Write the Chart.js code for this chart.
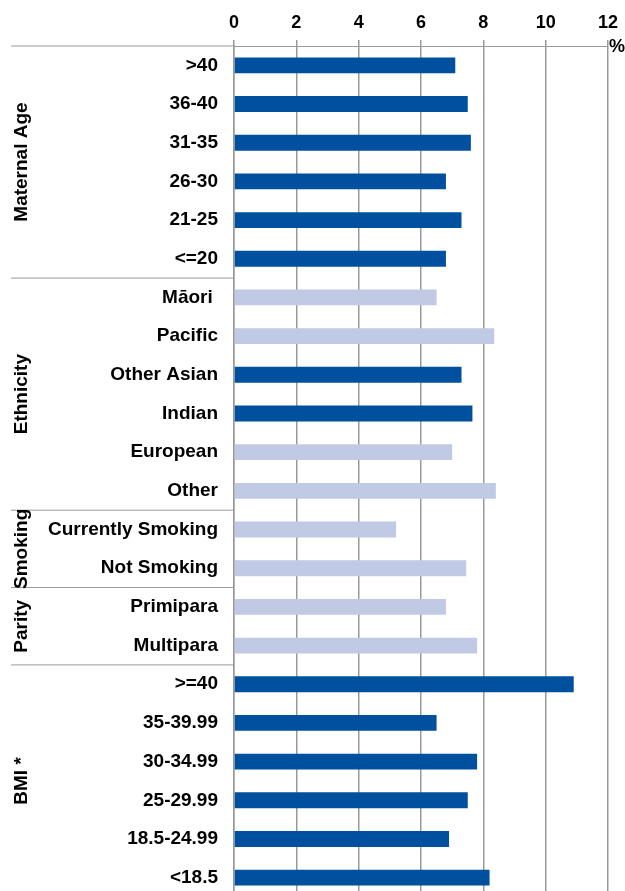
<!DOCTYPE html>
<html>
<head>
<meta charset="utf-8">
<script src="https://cdn.jsdelivr.net/npm/chart.js@4.4.1/dist/chart.umd.min.js"></script>
<style>
  html, body { margin: 0; padding: 0; background: #fff; overflow: hidden; }
  #wrap { width: 625px; height: 897px; }
</style>
</head>
<body>
<div id="wrap"><canvas id="chart" width="625" height="897"></canvas></div>
<script>
// rows, top to bottom
const categories = [
  ">40", "36-40", "31-35", "26-30", "21-25", "<=20",
  "Māori ", "Pacific", "Other Asian", "Indian", "European", "Other",
  "Currently Smoking", "Not Smoking",
  "Primipara", "Multipara",
  ">=40", "35-39.99", "30-34.99", "25-29.99", "18.5-24.99", "<18.5"
];
const values = [
  7.1, 7.5, 7.6, 6.8, 7.3, 6.8,
  6.5, 8.35, 7.3, 7.65, 7.0, 8.4,
  5.2, 7.45,
  6.8, 7.8,
  10.9, 6.5, 7.8, 7.5, 6.9, 8.2
];
const groupNames = ["Maternal Age", "Ethnicity", "Smoking", "Parity", "BMI *"];
const groupSizes = [6, 6, 2, 2, 6];
// rows shown in the darker blue
const highlighted = [
  ">40", "36-40", "31-35", "26-30", "21-25", "<=20",
  "Other Asian", "Indian",
  ">=40", "35-39.99", "30-34.99", "25-29.99", "18.5-24.99", "<18.5"
];
const xMin = 0, xMax = 12, xStep = 2;
const unitLabel = "%";

const DARK = "#0050a0";
const LIGHT = "#c0cae4";
const LINE = "#999999";
const FONT = "'Liberation Sans', Arial, sans-serif";

// group labels on the left plus the separator rules between groups
const groupPlugin = {
  id: "groups",
  afterDraw(chart) {
    const ctx = chart.ctx;
    const y = chart.scales.y;
    const area = chart.chartArea;
    const step = y.getPixelForValue(1) - y.getPixelForValue(0);

    ctx.save();
    ctx.strokeStyle = LINE;
    ctx.lineWidth = 1;
    ctx.beginPath();
    ctx.moveTo(11, area.top);
    ctx.lineTo(area.left, area.top);
    ctx.stroke();

    ctx.fillStyle = "#000";
    ctx.font = "bold 19px " + FONT;
    let start = 0;
    groupNames.forEach((name, g) => {
      const n = groupSizes[g];
      const top = y.getPixelForValue(start) - step / 2;
      const bottom = y.getPixelForValue(start + n - 1) + step / 2;
      if (start + n < categories.length) {
        ctx.beginPath();
        ctx.moveTo(11, bottom);
        ctx.lineTo(area.left, bottom);
        ctx.stroke();
      }
      ctx.save();
      ctx.translate(22, (top + bottom) / 2);
      ctx.rotate(-Math.PI / 2);
      ctx.textAlign = "center";
      ctx.textBaseline = "middle";
      ctx.fillText(name, 0, 0);
      ctx.restore();
      start += n;
    });

    ctx.font = "bold 18px " + FONT;
    ctx.textAlign = "left";
    ctx.textBaseline = "alphabetic";
    ctx.fillText(unitLabel, area.right + 1, area.top + 6);
    ctx.restore();
  }
};

const ctx = document.getElementById("chart").getContext("2d");

new Chart(ctx, {
  type: "bar",
  data: {
    labels: categories,
    datasets: [{
      data: values,
      backgroundColor: categories.map(c => highlighted.includes(c) ? DARK : LIGHT),
      borderWidth: 0,
      categoryPercentage: 1,
      barPercentage: 0.41
    }]
  },
  options: {
    indexAxis: "y",
    responsive: false,
    animation: false,
    layout: { autoPadding: false, padding: { left: 0, right: 17, top: 0, bottom: 0 } },
    plugins: {
      legend: { display: false },
      tooltip: { enabled: false }
    },
    scales: {
      x: {
        position: "top",
        min: xMin,
        max: xMax,
        ticks: {
          stepSize: xStep,
          color: "#000",
          padding: 6,
          font: { family: FONT, size: 18, weight: "bold" }
        },
        grid: { color: LINE, lineWidth: 1.5, tickLength: 6 },
        border: { color: LINE, width: 1 },
        afterFit(scale) {
          scale.height = 46;
          scale.paddingLeft = scale.paddingRight = 0;
          scale.paddingTop = scale.paddingBottom = 0;
        }
      },
      y: {
        ticks: {
          color: "#000",
          padding: 16,
          autoSkip: false,
          font: { family: FONT, size: 19, weight: "bold" }
        },
        grid: { display: false, drawTicks: false },
        border: { color: LINE, width: 1.5 },
        afterFit(scale) {
          scale.width = 234;
          // keep the rows running right down to the canvas edge
          scale.paddingTop = scale.paddingBottom = 0;
        }
      }
    }
  },
  plugins: [groupPlugin]
});
</script>
</body>
</html>
